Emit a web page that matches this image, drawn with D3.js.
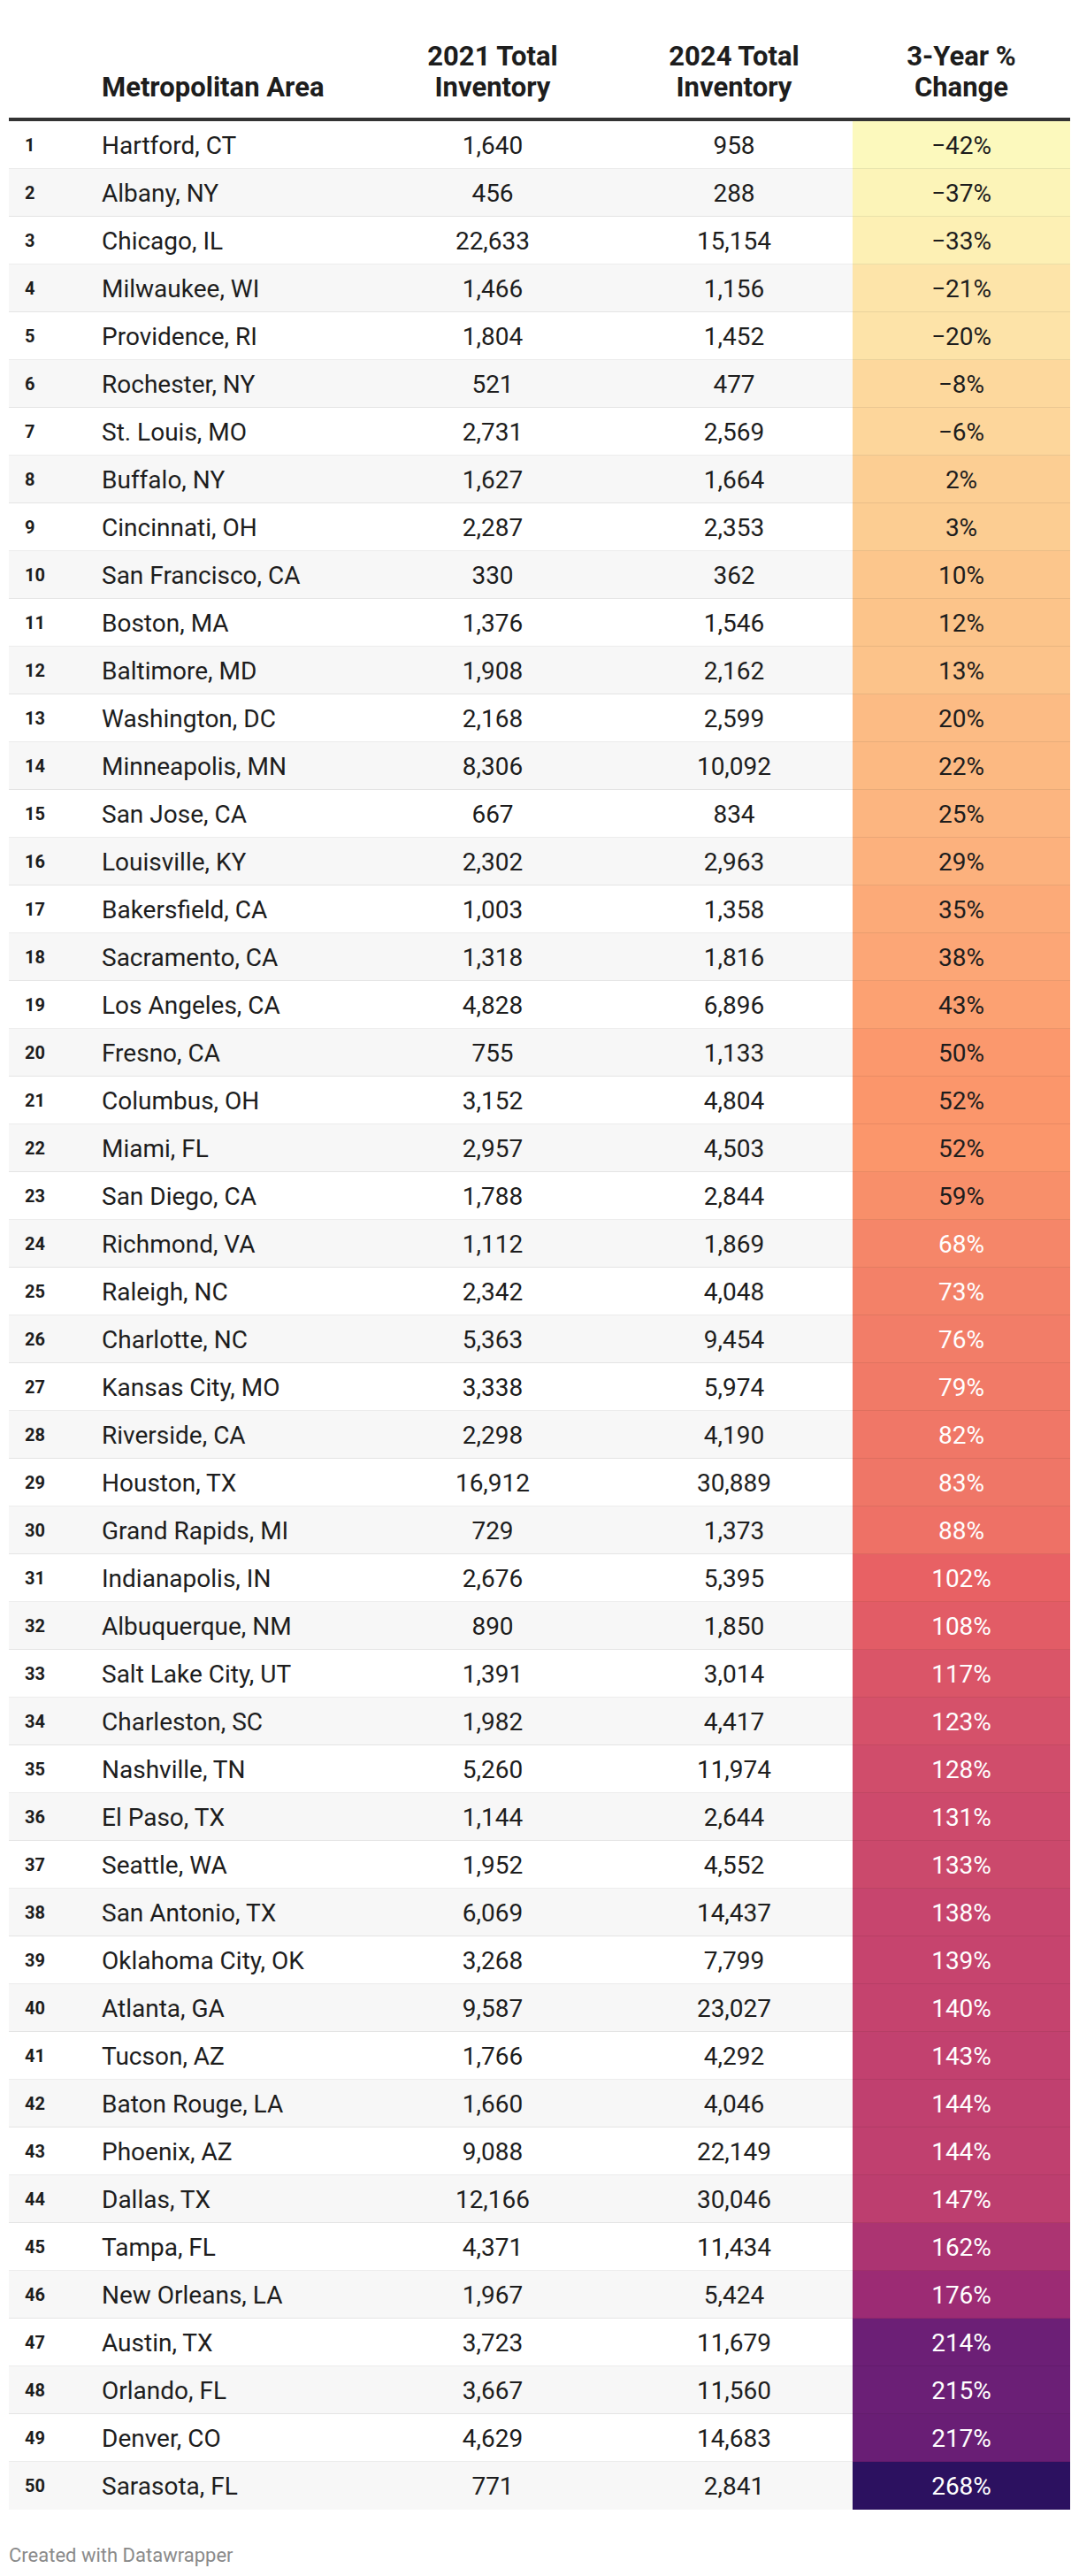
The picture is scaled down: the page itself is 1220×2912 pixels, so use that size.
<!DOCTYPE html>
<html lang="en">
<head>
    <meta charset="UTF-8">
    <title>Housing inventory change, 50 metros</title>
    <style type="text/css">
        body {
            margin: 0;
            background: #fff;
        }
        #table svg {
            display: block;
            font-family: Roboto, "Noto Sans", sans-serif;
        }
        .head text {
            font-weight: 700;
            font-size: 31px;
            fill: #1d1d1d;
        }
        .row .rank {
            font-weight: 700;
            font-size: 20px;
            fill: #1d1d1d;
        }
        .row .cell {
            font-size: 28px;
            fill: #1d1d1d;
        }
        .credit {
            font-size: 22px;
            fill: #8a8a8a;
        }
    </style>
</head>
<body>
    <div id="table"></div>
    <script src="https://cdnjs.cloudflare.com/ajax/libs/d3/7.8.5/d3.min.js"></script>
    <script type="text/javascript">
        var metros = ["Hartford, CT", "Albany, NY", "Chicago, IL", "Milwaukee, WI", "Providence, RI",
            "Rochester, NY", "St. Louis, MO", "Buffalo, NY", "Cincinnati, OH", "San Francisco, CA",
            "Boston, MA", "Baltimore, MD", "Washington, DC", "Minneapolis, MN", "San Jose, CA",
            "Louisville, KY", "Bakersfield, CA", "Sacramento, CA", "Los Angeles, CA", "Fresno, CA",
            "Columbus, OH", "Miami, FL", "San Diego, CA", "Richmond, VA", "Raleigh, NC",
            "Charlotte, NC", "Kansas City, MO", "Riverside, CA", "Houston, TX", "Grand Rapids, MI",
            "Indianapolis, IN", "Albuquerque, NM", "Salt Lake City, UT", "Charleston, SC", "Nashville, TN",
            "El Paso, TX", "Seattle, WA", "San Antonio, TX", "Oklahoma City, OK", "Atlanta, GA",
            "Tucson, AZ", "Baton Rouge, LA", "Phoenix, AZ", "Dallas, TX", "Tampa, FL",
            "New Orleans, LA", "Austin, TX", "Orlando, FL", "Denver, CO", "Sarasota, FL"];

        var inv2021 = [1640, 456, 22633, 1466, 1804, 521, 2731, 1627, 2287, 330,
            1376, 1908, 2168, 8306, 667, 2302, 1003, 1318, 4828, 755,
            3152, 2957, 1788, 1112, 2342, 5363, 3338, 2298, 16912, 729,
            2676, 890, 1391, 1982, 5260, 1144, 1952, 6069, 3268, 9587,
            1766, 1660, 9088, 12166, 4371, 1967, 3723, 3667, 4629, 771];

        var inv2024 = [958, 288, 15154, 1156, 1452, 477, 2569, 1664, 2353, 362,
            1546, 2162, 2599, 10092, 834, 2963, 1358, 1816, 6896, 1133,
            4804, 4503, 2844, 1869, 4048, 9454, 5974, 4190, 30889, 1373,
            5395, 1850, 3014, 4417, 11974, 2644, 4552, 14437, 7799, 23027,
            4292, 4046, 22149, 30046, 11434, 5424, 11679, 11560, 14683, 2841];

        var pctChange = [-42, -37, -33, -21, -20, -8, -6, 2, 3, 10,
            12, 13, 20, 22, 25, 29, 35, 38, 43, 50,
            52, 52, 59, 68, 73, 76, 79, 82, 83, 88,
            102, 108, 117, 123, 128, 131, 133, 138, 139, 140,
            143, 144, 144, 147, 162, 176, 214, 215, 217, 268];

        var headers = [["Metropolitan Area"], ["2021 Total", "Inventory"], ["2024 Total", "Inventory"], ["3-Year %", "Change"]];

        // gradient stops of the % change column (magma-like)
        var colorStops = [-42, 10, 52, 102, 140, 176, 215, 268];
        var colorRange = ["#fcf9bd", "#fcc68c", "#fb966b", "#e86164", "#c5436e", "#9c2b74", "#6b1f76", "#2c1160"];

        var width = 1220,
            height = 2912,
            left = 10,
            right = 1210,
            rowTop = 137,
            rowH = 54;

        // x layout of the columns
        var col = {
            rank: 28,
            name: 115,
            c2021: 557,
            c2024: 830,
            pctX0: 964,
            pctX1: 1210
        };
        var pctMid = (col.pctX0 + col.pctX1) / 2;

        var rows = metros.map((m, i) => ({
            rank: i + 1,
            name: m,
            a: inv2021[i],
            b: inv2024[i],
            pct: pctChange[i]
        }));

        var y = d3.scaleBand()
            .domain(rows.map(d => d.rank))
            .range([rowTop, rowTop + rows.length * rowH]);

        var color = d3.scaleLinear()
            .domain(colorStops)
            .range(colorRange)
            .interpolate(d3.interpolateLab);

        var fmtNum = d3.format(",");
        var fmtPct = d3.format("d");

        var svg = d3.select("#table")
            .append("svg")
            .attr("width", width)
            .attr("height", height);

        // header
        var head = svg.append("g").attr("class", "head");
        var headX = [col.name, col.c2021, col.c2024, pctMid];
        headers.forEach((lines, k) => {
            var t = head.append("text")
                .attr("text-anchor", k === 0 ? "start" : "middle");
            lines.forEach((s, j) => {
                t.append("tspan")
                    .attr("x", headX[k])
                    .attr("y", 109 - (lines.length - 1 - j) * 35)
                    .text(s);
            });
        });

        svg.append("rect")
            .attr("x", left)
            .attr("y", rowTop - 4)
            .attr("width", right - left)
            .attr("height", 4)
            .attr("fill", "#333");

        var row = svg.selectAll(".row")
            .data(rows)
            .enter().append("g")
            .attr("class", "row")
            .attr("transform", d => `translate(0,${y(d.rank)})`);

        row.append("rect")
            .attr("x", left)
            .attr("width", right - left)
            .attr("height", y.bandwidth())
            .attr("fill", d => d.rank % 2 === 0 ? "#f7f7f7" : "#fff");

        row.append("rect")
            .attr("x", col.pctX0)
            .attr("width", col.pctX1 - col.pctX0)
            .attr("height", y.bandwidth())
            .attr("fill", d => color(d.pct));

        // row separators
        row.filter(d => d.rank < rows.length)
            .append("rect")
            .attr("x", left)
            .attr("y", y.bandwidth() - 1)
            .attr("width", right - left)
            .attr("height", 2)
            .attr("fill", "rgba(0,0,0,0.075)");

        var mid = y.bandwidth() / 2;

        row.append("text")
            .attr("class", "rank")
            .attr("x", col.rank)
            .attr("y", mid)
            .attr("dy", "0.36em")
            .text(d => d.rank);

        row.append("text")
            .attr("class", "cell")
            .attr("x", col.name)
            .attr("y", mid)
            .attr("dy", "0.36em")
            .text(d => d.name);

        row.append("text")
            .attr("class", "cell")
            .attr("x", col.c2021)
            .attr("y", mid)
            .attr("dy", "0.36em")
            .attr("text-anchor", "middle")
            .text(d => fmtNum(d.a));

        row.append("text")
            .attr("class", "cell")
            .attr("x", col.c2024)
            .attr("y", mid)
            .attr("dy", "0.36em")
            .attr("text-anchor", "middle")
            .text(d => fmtNum(d.b));

        row.append("text")
            .attr("class", "cell")
            .attr("x", pctMid)
            .attr("y", mid)
            .attr("dy", "0.36em")
            .attr("text-anchor", "middle")
            .style("fill", d => d3.lab(color(d.pct)).l < 69 ? "#fff" : "#1d1d1d")
            .text(d => fmtPct(d.pct) + "%");

        svg.append("text")
            .attr("class", "credit")
            .attr("x", left)
            .attr("y", 2896)
            .text("Created with Datawrapper");
    </script>
</body>
</html>
